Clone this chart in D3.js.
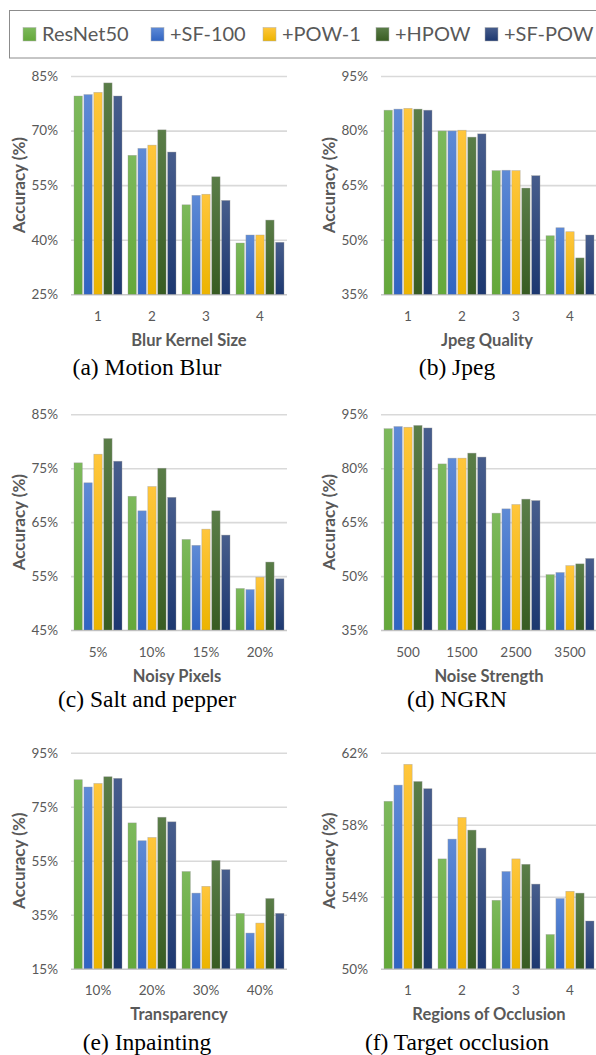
<!DOCTYPE html>
<html>
<head>
<meta charset="utf-8">
<script src="https://cdn.jsdelivr.net/npm/d3@7"></script>
<style>
  body { margin: 0; background: #fff; }
  svg { display: block; }
</style>
</head>
<body>
<div id="chart"></div>
<script>
// series names, shared by every panel
var series = ['ResNet50', '+SF-100', '+POW-1', '+HPOW', '+SF-POW']

// (a) motion blur
var blur_cats = ['1', '2', '3', '4']
var blur_ticks = [25, 40, 55, 70, 85]
var blur_values = [
  [79.5, 63.2, 49.6, 39.1],
  [79.9, 65.1, 52.2, 41.3],
  [80.5, 66.0, 52.5, 41.3],
  [83.1, 70.2, 57.3, 45.4],
  [79.5, 64.1, 50.8, 39.3]
]

// (b) jpeg
var jpeg_cats = ['1', '2', '3', '4']
var jpeg_ticks = [35, 50, 65, 80, 95]
var jpeg_values = [
  [85.6, 79.9, 69.0, 51.1],
  [85.9, 79.9, 69.1, 53.3],
  [86.1, 80.1, 69.0, 52.2],
  [85.9, 78.2, 64.2, 45.0],
  [85.6, 79.1, 67.6, 51.3]
]

// (c) salt and pepper
var salt_cats = ['5%', '10%', '15%', '20%']
var salt_ticks = [45, 55, 65, 75, 85]
var salt_values = [
  [76.0, 69.8, 61.8, 52.7],
  [72.3, 67.1, 60.7, 52.5],
  [77.6, 71.6, 63.7, 54.8],
  [80.5, 75.0, 67.1, 57.6],
  [76.3, 69.6, 62.6, 54.5]
]

// (d) NGRN
var ngrn_cats = ['500', '1500', '2500', '3500']
var ngrn_ticks = [35, 50, 65, 80, 95]
var ngrn_values = [
  [91.0, 81.2, 67.5, 50.4],
  [91.6, 82.8, 68.7, 51.0],
  [91.4, 82.8, 69.9, 52.9],
  [91.9, 84.2, 71.4, 53.4],
  [91.2, 83.1, 71.0, 54.9]
]

// (e) inpainting
var inpaint_cats = ['10%', '20%', '30%', '40%']
var inpaint_ticks = [15, 35, 55, 75, 95]
var inpaint_values = [
  [85.0, 69.0, 51.0, 35.5],
  [82.3, 62.4, 43.0, 28.2],
  [83.6, 63.6, 45.5, 31.9],
  [86.1, 71.1, 55.1, 41.0],
  [85.5, 69.4, 51.7, 35.5]
]

// (f) target occlusion
var occl_cats = ['1', '2', '3', '4']
var occl_ticks = [50, 54, 58, 62]
var occl_values = [
  [59.3, 56.1, 53.8, 51.9],
  [60.2, 57.2, 55.4, 53.9],
  [61.35, 58.4, 56.1, 54.3],
  [60.4, 57.7, 55.8, 54.2],
  [60.0, 56.7, 54.7, 52.65]
]

var panels = [
  { cats: blur_cats, ticks: blur_ticks, values: blur_values, xtitle: 'Blur Kernel Size', caption: '(a) Motion Blur' },
  { cats: jpeg_cats, ticks: jpeg_ticks, values: jpeg_values, xtitle: 'Jpeg Quality', caption: '(b) Jpeg' },
  { cats: salt_cats, ticks: salt_ticks, values: salt_values, xtitle: 'Noisy Pixels', caption: '(c) Salt and pepper' },
  { cats: ngrn_cats, ticks: ngrn_ticks, values: ngrn_values, xtitle: 'Noise Strength', caption: '(d) NGRN' },
  { cats: inpaint_cats, ticks: inpaint_ticks, values: inpaint_values, xtitle: 'Transparency', caption: '(e) Inpainting' },
  { cats: occl_cats, ticks: occl_ticks, values: occl_values, xtitle: 'Regions of Occlusion', caption: '(f) Target occlusion' }
]

// layout
var w = 596
var h = 1055
var col_left = [71, 381]
var plot_w = 216
var row_top = [76, 414.3, 752.7]
var row_bottom = [294.3, 630, 968.7]
var caption_y = [368, 699.5, 1043]
var xtitle_dx = [10, -2, -2, 0, 0, 0]
var legend_x = [23, 151, 263, 376, 485]

var gray = '#595959'
var font = 'Lato, "Open Sans", sans-serif'
// top / bottom gradient stops for each series
var grad_top = ['#7db95c', '#5e8ad6', '#ffc63c', '#5a7d48', '#475d8c']
var grad_bot = ['#64a83a', '#3064c2', '#ecb400', '#385c22', '#1d3870']

var svg = d3.select('#chart').append('svg')
  .attr('width', w)
  .attr('height', h)
  .attr('viewBox', [0, 0, w, h].join(' '))

var defs = svg.append('defs')
series.forEach(function (s, i) {
  var g = defs.append('linearGradient')
    .attr('id', 'grad' + i)
    .attr('x1', 0).attr('y1', 0).attr('x2', 0).attr('y2', 1)
  g.append('stop').attr('offset', '0%').attr('stop-color', grad_top[i])
  g.append('stop').attr('offset', '100%').attr('stop-color', grad_bot[i])
})

// legend
var legend = svg.append('g')
legend.append('rect')
  .attr('x', 9.5).attr('y', 10.5)
  .attr('width', 620).attr('height', 47.5)
  .attr('fill', 'white')
  .attr('stroke', '#8c8c8c')
  .attr('stroke-width', 1)

series.forEach(function (s, i) {
  var lx = legend_x[i]
  legend.append('rect')
    .attr('x', lx).attr('y', 27.5)
    .attr('width', 13).attr('height', 13.5)
    .attr('fill', 'url(#grad' + i + ')')
    .attr('stroke', '#b0b0b0')
    .attr('stroke-width', 0.5)
  legend.append('text')
    .attr('x', lx + 19)
    .attr('y', 34)
    .attr('dy', '0.35em')
    .attr('fill', gray)
    .style('font-family', font)
    .style('font-size', '20px')
    .text(s)
})

// panels
panels.forEach(function (p, pi) {
  var col = pi % 2
  var row = Math.floor(pi / 2)
  var left = col_left[col]
  var top = row_top[row]
  var bottom = row_bottom[row]

  var y = d3.scaleLinear()
    .domain([p.ticks[0], p.ticks[p.ticks.length - 1]])
    .range([bottom, top])
  var x0 = d3.scaleBand().domain(p.cats).range([left, left + plot_w]).padding(0)
  var group_w = 48
  var x1 = d3.scaleBand().domain(d3.range(series.length)).range([0, group_w]).paddingInner(0.16)
  var group_off = (x0.bandwidth() - group_w) / 2

  var g = svg.append('g')

  // grid lines
  var yAxis = d3.axisLeft(y)
    .tickValues(p.ticks)
    .tickSize(-plot_w)
    .tickPadding(13)
    .tickFormat(function (d) { return d + '%' })
  var ya = g.append('g')
    .attr('transform', 'translate(' + left + ',0)')
    .call(yAxis)
  ya.select('.domain').remove()
  ya.selectAll('.tick line')
    .attr('stroke', function (d, i) { return i === 0 ? '#c8c8c8' : '#d9d9d9' })
    .attr('stroke-width', 1.6)
  ya.selectAll('.tick text')
    .attr('fill', gray)
    .style('font-family', font)
    .style('font-size', '13.5px')

  // bars
  p.values.forEach(function (vals, si) {
    g.selectAll('.bar' + si)
      .data(vals)
      .enter().append('rect')
      .attr('x', function (d, ci) { return x0(p.cats[ci]) + group_off + x1(si) })
      .attr('y', function (d) { return y(d) })
      .attr('width', x1.bandwidth())
      .attr('height', function (d) { return bottom - y(d) })
      .attr('fill', 'url(#grad' + si + ')')
      .attr('stroke', '#9a9a9a')
      .attr('stroke-opacity', 0.6)
      .attr('stroke-width', 0.6)
  })

  // x axis
  var xAxis = d3.axisBottom(x0).tickSize(0).tickPadding(0)
  var xa = g.append('g')
    .attr('transform', 'translate(0,' + bottom + ')')
    .call(xAxis)
  xa.select('.domain').remove()
  xa.selectAll('.tick text')
    .attr('y', 22)
    .attr('dy', '0.35em')
    .attr('fill', gray)
    .style('font-family', font)
    .style('font-size', '13.5px')

  // axis titles
  g.append('text')
    .attr('transform', 'translate(' + (left - 51.5) + ',' + ((top + bottom) / 2) + ') rotate(-90)')
    .attr('text-anchor', 'middle')
    .attr('dy', '0.35em')
    .attr('fill', gray)
    .style('font-family', font)
    .style('font-weight', 'bold')
    .style('font-size', '17px')
    .text('Accuracy (%)')

  g.append('text')
    .attr('x', left + plot_w / 2 + xtitle_dx[pi])
    .attr('y', bottom + 46)
    .attr('dy', '0.35em')
    .attr('text-anchor', 'middle')
    .attr('fill', gray)
    .style('font-family', font)
    .style('font-weight', 'bold')
    .style('font-size', '16.5px')
    .text(p.xtitle)

  g.append('text')
    .attr('x', col === 0 ? 147 : 457)
    .attr('y', caption_y[row])
    .attr('dy', '0.3em')
    .attr('text-anchor', 'middle')
    .attr('fill', 'black')
    .style('font-family', '"Liberation Serif", "Times New Roman", serif')
    .style('font-size', '23.5px')
    .text(p.caption)
})
</script>
</body>
</html>
